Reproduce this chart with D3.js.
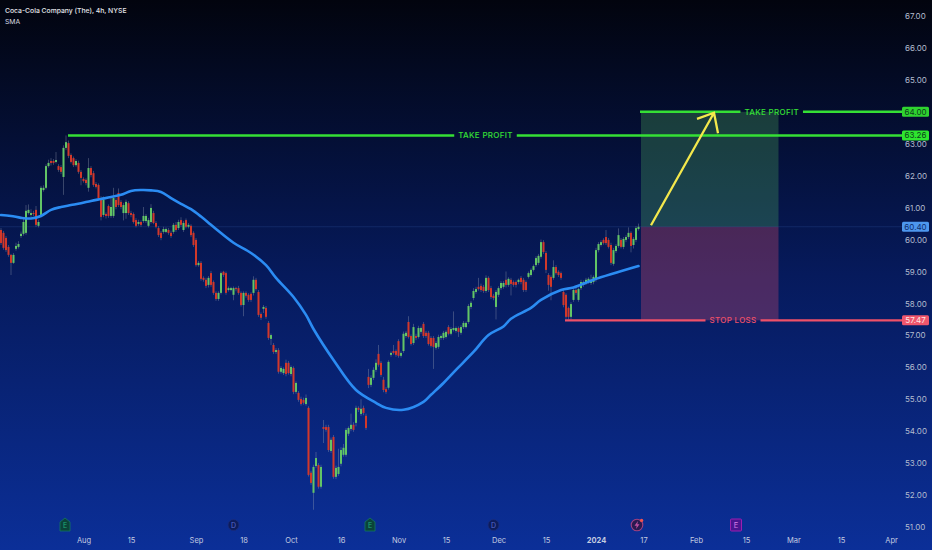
<!DOCTYPE html>
<html>
<head>
<meta charset="utf-8">
<script src="https://cdn.jsdelivr.net/npm/d3@7"></script>
<style>
  html, body { margin: 0; padding: 0; background: #020510; }
  svg { display: block; font-family: Inter, "Noto Sans", sans-serif; }
</style>
</head>
<body>
<svg id="chart" width="932" height="550"></svg>
<script>
const candleOpen = [
  60.30,60.21,60.05,59.77,59.52,59.27,59.71,59.77,60.11,60.18,
  60.21,60.83,60.77,60.83,60.93,60.43,60.77,61.55,61.62,62.30,
  62.46,62.46,62.43,62.30,62.27,61.96,62.87,63.02,62.65,62.55,
  62.33,62.40,62.12,61.90,61.87,61.62,62.24,62.08,61.74,61.71,
  61.30,60.77,60.80,61.05,60.74,60.74,61.24,61.46,61.18,60.83,
  60.83,61.14,60.83,60.80,60.61,60.49,60.55,60.58,60.58,60.43,
  60.55,60.83,60.52,60.36,60.21,60.24,60.24,60.30,60.21,60.24,
  60.46,60.36,60.61,60.30,60.61,60.40,60.43,60.21,59.99,59.20,
  59.27,58.80,58.74,58.58,58.95,58.67,58.33,58.14,58.33,58.99,
  58.95,58.42,58.42,58.27,58.48,58.48,58.33,57.95,58.33,58.27,
  58.30,58.33,58.74,58.36,57.67,57.83,57.86,57.39,56.89,56.70,
  56.48,56.54,55.86,55.82,56.14,56.14,55.79,55.98,55.23,55.20,
  55.01,54.98,54.85,54.73,52.70,52.07,52.91,52.94,52.26,54.13,
  54.13,54.13,53.38,53.82,52.57,52.66,52.98,53.26,53.26,53.92,
  54.07,54.20,54.26,54.73,54.54,54.73,54.48,55.70,55.45,55.67,
  55.92,56.42,56.14,55.61,55.32,55.36,56.39,56.51,56.51,56.82,
  56.36,56.51,56.98,57.42,56.98,56.76,56.98,56.95,57.11,57.36,
  57.08,57.08,56.92,56.92,56.61,56.64,56.92,56.92,56.95,57.26,
  57.05,57.17,57.14,57.23,57.08,57.26,57.26,57.42,57.89,58.17,
  58.36,58.52,58.55,58.52,58.39,58.80,58.48,58.24,57.89,58.27,
  58.48,58.52,58.74,58.58,58.74,58.67,58.67,58.67,58.80,58.74,
  58.67,58.83,58.89,59.05,59.20,59.27,59.46,59.92,59.58,58.89,
  58.83,58.80,59.14,58.99,58.95,58.36,58.27,57.86,57.58,58.11,
  58.42,58.11,58.48,58.58,58.64,58.67,58.64,58.67,58.74,59.67,
  59.83,59.99,60.08,59.99,59.83,59.24,59.64,59.80,59.99,59.77,
  59.99,60.08,60.21,59.83,59.99,60.33
];
const candleClose = [
  59.89,59.74,59.67,59.52,59.27,59.52,59.80,59.86,60.18,60.55,
  60.90,60.93,60.83,60.80,60.46,60.55,61.62,61.62,62.30,62.40,
  62.40,62.40,62.49,62.18,62.12,62.87,63.05,62.62,62.43,62.33,
  62.46,62.12,61.93,61.83,61.77,62.24,62.02,61.71,61.65,61.30,
  60.71,61.24,60.74,60.74,61.02,61.30,61.02,61.08,61.02,61.08,
  61.18,60.83,60.77,60.55,60.43,60.55,60.46,60.74,60.74,60.61,
  60.99,60.52,60.40,60.14,60.05,60.33,60.33,60.21,60.11,60.46,
  60.30,60.55,60.46,60.52,60.40,60.46,60.14,59.83,59.20,59.27,
  58.77,58.74,58.55,58.80,58.58,58.33,58.14,58.33,58.95,58.89,
  58.33,58.48,58.48,58.48,58.45,58.33,57.95,58.33,58.24,58.11,
  58.11,58.74,58.45,57.64,57.55,57.89,57.58,56.92,57.01,56.48,
  56.54,55.86,55.98,55.95,55.79,55.82,56.01,55.23,55.51,54.98,
  54.85,54.89,55.04,52.63,52.38,52.88,53.16,52.26,52.88,54.07,
  54.04,53.41,53.73,52.57,52.85,52.88,53.41,53.48,54.04,54.10,
  54.20,54.04,54.73,54.67,54.70,54.57,54.10,55.45,55.67,55.92,
  56.14,56.08,55.76,55.29,55.23,56.17,56.45,56.45,56.39,56.36,
  56.45,57.05,57.08,56.95,56.73,57.26,56.92,57.23,57.23,56.98,
  56.98,56.73,56.67,56.64,56.76,56.95,56.98,57.08,57.11,57.05,
  57.20,57.23,57.23,57.11,57.26,57.39,57.39,57.92,58.02,58.39,
  58.45,58.45,58.42,58.39,58.80,58.42,58.20,58.17,58.36,58.48,
  58.64,58.64,58.58,58.77,58.61,58.58,58.58,58.74,58.67,58.42,
  58.42,58.95,59.05,59.17,59.42,59.49,59.92,59.61,59.05,58.58,
  58.52,59.14,58.95,58.89,58.80,57.95,57.58,57.58,57.98,58.42,
  58.33,58.45,58.67,58.67,58.74,58.77,58.74,58.83,59.67,59.86,
  59.92,59.89,59.89,59.77,59.27,59.67,59.80,60.14,59.77,60.02,
  60.08,60.21,59.80,60.02,60.36,60.40
];
const candleHigh = [
  60.36,60.27,60.11,59.83,59.55,59.58,59.90,59.95,60.25,60.65,
  61.08,61.10,60.95,60.90,61.05,60.62,61.68,61.70,62.36,62.50,
  62.55,62.52,62.74,62.36,62.33,62.95,63.26,63.10,62.70,62.60,
  62.52,62.47,62.18,61.95,61.92,62.55,62.30,62.15,61.80,61.76,
  61.36,61.35,60.85,61.10,61.30,61.62,61.30,61.60,61.24,61.15,
  61.25,61.20,60.90,60.85,60.67,60.62,60.60,61.02,60.80,60.68,
  61.11,60.90,60.58,60.42,60.27,60.40,60.38,60.36,60.28,60.52,
  60.55,60.62,60.70,60.58,60.66,60.52,60.48,60.26,60.05,59.33,
  59.33,58.85,58.80,58.86,59.02,58.72,58.38,58.38,59.00,59.02,
  59.00,58.53,58.52,58.53,58.52,58.55,58.38,58.38,58.38,58.32,
  58.35,58.85,58.80,58.42,57.72,57.95,57.92,57.45,57.06,56.76,
  56.60,56.60,56.04,56.00,56.24,56.20,56.06,56.03,55.56,55.26,
  55.08,55.05,55.15,54.78,52.76,52.95,53.35,53.00,52.95,54.35,
  54.20,54.20,53.80,53.88,52.92,53.45,53.50,53.60,54.10,54.15,
  54.55,54.28,54.80,54.78,55.00,54.80,54.55,55.95,55.75,56.00,
  56.25,56.70,56.20,55.70,55.38,56.22,56.50,56.70,56.56,56.88,
  56.50,57.12,57.14,57.60,57.03,57.36,57.05,57.30,57.28,57.42,
  57.14,57.14,56.98,56.98,56.82,57.02,57.03,57.14,57.16,57.32,
  57.26,57.75,57.28,57.28,57.32,57.45,57.44,57.98,58.08,58.48,
  58.52,58.80,58.62,58.58,58.88,58.85,58.55,58.30,58.42,58.54,
  58.70,58.70,59.00,58.82,58.80,58.72,58.72,58.78,58.86,58.80,
  58.72,59.00,59.10,59.22,59.48,59.55,60.00,59.98,59.64,58.95,
  58.88,59.35,59.20,59.04,59.00,58.42,58.32,57.90,58.04,58.48,
  58.50,58.50,58.74,58.72,58.80,58.82,58.90,58.88,59.74,59.92,
  59.98,60.04,60.30,60.05,59.90,59.74,59.86,60.35,60.05,60.08,
  60.14,60.38,60.26,60.08,60.42,60.50
];
const candleLow = [
  59.83,59.68,59.61,59.46,58.89,59.24,59.65,59.72,60.05,60.12,
  60.15,60.78,60.70,60.74,60.40,60.38,60.70,61.50,61.57,62.25,
  62.32,62.34,62.38,62.12,62.05,61.40,62.80,62.55,62.38,62.27,
  62.28,62.06,61.70,61.78,61.70,61.50,61.95,61.65,61.60,61.24,
  60.60,60.70,60.66,60.68,60.68,60.68,60.95,61.02,60.95,60.60,
  60.65,60.77,60.70,60.50,60.38,60.43,60.40,60.52,60.52,60.38,
  60.50,60.48,60.35,60.08,59.98,60.18,60.20,60.15,60.05,60.18,
  60.24,60.30,60.40,60.24,60.35,60.35,60.08,59.77,59.15,59.15,
  58.71,58.68,58.48,58.50,58.52,58.27,58.08,58.08,58.28,58.83,
  58.27,58.37,58.38,58.10,58.38,58.27,57.90,57.60,58.18,58.05,
  58.05,58.25,58.40,57.58,57.48,57.70,57.52,56.86,56.70,56.42,
  56.42,55.80,55.80,55.76,55.72,55.77,55.72,55.16,55.17,54.92,
  54.80,54.83,54.80,52.58,52.32,51.54,52.85,52.20,52.20,53.63,
  53.98,53.35,53.32,52.51,52.50,52.60,52.90,53.20,53.20,53.85,
  54.00,53.98,54.15,54.60,54.48,54.50,54.04,55.35,55.38,55.60,
  55.85,56.02,55.70,55.22,55.17,55.30,56.33,56.40,56.33,56.30,
  56.30,56.45,56.92,56.90,56.68,56.70,56.85,56.90,57.05,56.92,
  56.92,56.68,56.62,55.95,56.55,56.58,56.86,56.86,56.90,57.00,
  57.00,57.12,57.08,56.95,57.02,57.20,57.22,57.36,57.82,58.10,
  58.30,58.40,58.36,58.33,58.33,58.36,58.14,58.10,57.50,58.20,
  58.42,58.46,58.50,58.52,58.25,58.52,58.50,58.60,58.60,58.36,
  58.36,58.78,58.84,59.00,59.14,59.20,59.40,59.55,58.95,58.40,
  58.10,58.74,58.90,58.83,58.74,57.88,57.52,57.50,57.50,58.05,
  58.27,58.05,58.42,58.52,58.58,58.62,58.58,58.60,58.68,59.60,
  59.78,59.84,59.83,59.72,59.20,59.18,59.58,59.74,59.72,59.70,
  59.92,60.02,59.60,59.72,59.92,60.28
];

// SMA at a handful of bars
const smaBar = [0,4,8,12,16,20,24,28,32,36,40,44,48,52,56,60,64,68,72,76,80,84,86,93,100,106,110,117,122,125,133,142,150,154,161,169,172,177,182,189,195,201,204,212,216,224,229,237,255];
const smaValue = [60.77,60.74,60.68,60.66,60.74,60.93,61.02,61.08,61.14,61.21,61.27,61.33,61.40,61.52,61.55,61.54,61.49,61.30,61.12,60.95,60.72,60.46,60.33,59.90,59.58,59.20,58.80,58.20,57.64,57.20,56.23,55.29,54.89,54.73,54.67,54.92,55.14,55.51,55.92,56.48,57.01,57.28,57.52,57.86,58.11,58.42,58.50,58.74,59.17];

const priceTicks = [67,66,65,64,63,62,61,60,59,58,57,56,55,54,53,52,51];
const timeTickBars = [33,52,78,97,116,136,159,178,199,218,238,257,278,298,317,336,356];
const timeTickLabels = ['Aug','15','Sep','18','Oct','16','Nov','15','Dec','15','2024','17','Feb','15','Mar','15','Apr'];

const takeProfit = 64.00, previousHigh = 63.26, lastPrice = 60.40, stopLoss = 57.47;
const eventBars = [25.6,93,147.6,197,254.4,294];
const eventKinds = ['earn','div','earn','div','split','next'];

const width = 932, height = 550;
const x = d3.scaleLinear().domain([0, 372]).range([1, 931]);
const y = d3.scaleLinear().domain([51, 67]).range([527, 16]);

const svg = d3.select('#chart');

const defs = svg.append('defs');
const grad = defs.append('linearGradient')
  .attr('id', 'bg').attr('x1', 0).attr('y1', 0).attr('x2', 0).attr('y2', 1);
grad.append('stop').attr('offset', '0%').attr('stop-color', '#02040e');
grad.append('stop').attr('offset', '50%').attr('stop-color', '#061a5c');
grad.append('stop').attr('offset', '100%').attr('stop-color', '#0b2f98');
defs.append('filter').attr('id', 'soft').append('feGaussianBlur').attr('stdDeviation', 0.3);
svg.append('rect').attr('width', width).attr('height', height).attr('fill', 'url(#bg)');

// position box
const boxLeft = x(256), boxRight = x(311);
svg.append('rect').attr('x', boxLeft).attr('width', boxRight - boxLeft)
  .attr('y', y(takeProfit)).attr('height', y(lastPrice) - y(takeProfit))
  .attr('fill', '#5cc860').attr('fill-opacity', 0.26);
svg.append('rect').attr('x', boxLeft).attr('width', boxRight - boxLeft)
  .attr('y', y(lastPrice)).attr('height', y(stopLoss) - y(lastPrice))
  .attr('fill', '#e8506e').attr('fill-opacity', 0.3);

svg.append('line').attr('x1', 0).attr('x2', 902)
  .attr('y1', y(lastPrice)).attr('y2', y(lastPrice))
  .attr('stroke', '#3f6fc0').attr('stroke-opacity', 0.22).attr('stroke-width', 1);

// candles
const bars = d3.range(candleOpen.length);
const candles = svg.append('g').attr('filter', 'url(#soft)');
candles.selectAll('line').data(bars).enter().append('line')
  .attr('x1', i => x(i)).attr('x2', i => x(i))
  .attr('y1', i => y(candleHigh[i])).attr('y2', i => y(candleLow[i]))
  .attr('stroke', '#9aa3b5').attr('stroke-opacity', 0.5).attr('stroke-width', 0.7);
candles.selectAll('rect').data(bars).enter().append('rect')
  .attr('x', i => x(i) - 1)
  .attr('width', 2)
  .attr('y', i => y(Math.max(candleOpen[i], candleClose[i])))
  .attr('height', i => Math.max(1, Math.abs(y(candleOpen[i]) - y(candleClose[i]))))
  .attr('fill', i => candleClose[i] >= candleOpen[i] ? '#62c566' : '#d2372c');

// SMA
const smaLine = d3.line()
  .x(d => x(d))
  .y((d, i) => y(smaValue[i]))
  .curve(d3.curveCatmullRom);
svg.append('path').attr('d', smaLine(smaBar))
  .attr('fill', 'none').attr('stroke', '#2b8cf3').attr('stroke-width', 2.6)
  .attr('stroke-linecap', 'round');

// axes
const yAxis = d3.axisRight(y).tickValues(priceTicks).tickFormat(d3.format('.2f')).tickSize(0).tickPadding(0);
const yg = svg.append('g').attr('transform', 'translate(905,0)').call(yAxis);
yg.select('.domain').remove();
yg.selectAll('text').attr('fill', '#b4bccf').style('font-size', '8px').style('font-family', 'Inter, sans-serif');

const xAxis = d3.axisBottom(x).tickValues(timeTickBars)
  .tickFormat((d, i) => timeTickLabels[i]).tickSize(0).tickPadding(0);
const xg = svg.append('g').attr('transform', 'translate(0,538)').call(xAxis);
xg.select('.domain').remove();
xg.selectAll('text').attr('fill', '#c3cce0').style('font-size', '7.5px').style('font-family', 'Inter, sans-serif')
  .attr('font-weight', d => d === 238 ? 700 : 400);

// level lines, broken around their label
const levelLine = (price, startBar, color, label, labelX) => {
  const text = svg.append('text').attr('x', labelX).attr('y', y(price) + 3)
    .attr('text-anchor', 'middle').attr('fill', color)
    .attr('font-size', 8).attr('font-weight', 500).attr('letter-spacing', 0.3).text(label);
  const box = text.node().getBBox();
  const segs = [[x(startBar), box.x - 4], [box.x + box.width + 4, 902]];
  svg.selectAll(null).data(segs).enter().append('line')
    .attr('x1', d => d[0]).attr('x2', d => d[1])
    .attr('y1', y(price)).attr('y2', y(price))
    .attr('stroke', color).attr('stroke-width', 2.4);
};
levelLine(previousHigh, 26.8, '#35e035', 'TAKE PROFIT', 485.5);
levelLine(takeProfit, 255.6, '#35e035', 'TAKE PROFIT', 771.7);
levelLine(stopLoss, 225.6, '#ef5068', 'STOP LOSS', 733);

// price tags
const tags = [
  [takeProfit, '#2fd32f', '#0c3f1c'],
  [previousHigh, '#2ee62e', '#0c3f1c'],
  [lastPrice, '#4d97ee', '#0d2c6c'],
  [stopLoss, '#f0566c', '#ffe6e6']
];
tags.forEach(([price, fill, ink]) => {
  svg.append('rect').attr('x', 902).attr('y', y(price) - 5).attr('width', 27).attr('height', 10)
    .attr('rx', 1.5).attr('fill', fill);
  svg.append('text').attr('x', 915.5).attr('y', y(price) + 3).attr('text-anchor', 'middle')
    .attr('fill', ink).attr('font-size', 8).text(d3.format('.2f')(price));
});

// hand-drawn arrow
const arrowStart = [260, 60.45], arrowTip = [285.2, 63.97];
const wingA = [278.4, 63.78], wingB = [286.8, 63.33];
const px = p => [x(p[0]), y(p[1])];
svg.append('path')
  .attr('d', d3.line()([px(arrowStart), px(arrowTip)]) + d3.line()([px(wingA), px(arrowTip), px(wingB)]))
  .attr('fill', 'none').attr('stroke', '#f4e84c').attr('stroke-width', 2.3);

// event markers along the bottom
const iconY = 525;
const events = svg.append('g');
eventBars.forEach((bar, i) => {
  const cx = x(bar), kind = eventKinds[i];
  const g = events.append('g').attr('transform', `translate(${cx},${iconY})`);
  if (kind === 'earn') {
    g.append('path').attr('d', 'M-5,-3 L0,-7 L5,-3 L5,6 L-5,6 Z')
      .attr('fill', '#0b4339').attr('stroke', '#137a5f').attr('stroke-width', 0.8);
    g.append('text').attr('y', 3).attr('text-anchor', 'middle').attr('font-size', 7).attr('fill', '#1fae7c').text('E');
  } else if (kind === 'div') {
    g.append('circle').attr('r', 5.5).attr('fill', '#0c1c5c').attr('stroke', '#1a2c7e').attr('stroke-width', 0.8);
    g.append('text').attr('y', 2.5).attr('text-anchor', 'middle').attr('font-size', 7).attr('fill', '#5a6bd0').text('D');
  } else if (kind === 'split') {
    g.append('circle').attr('r', 5.8).attr('fill', '#2a1a50').attr('stroke', '#a0407f').attr('stroke-width', 1.1);
    g.append('path').attr('d', 'M1,-4 L-2.5,0.8 L-0.3,0.8 L-1,4 L2.5,-0.8 L0.3,-0.8 Z').attr('fill', '#c050a0');
    g.append('circle').attr('cx', 4.6).attr('cy', -4.6).attr('r', 1.7).attr('fill', '#ef5350');
  } else {
    g.append('rect').attr('x', -5.5).attr('y', -6).attr('width', 11).attr('height', 12).attr('rx', 1)
      .attr('fill', '#4a1490').attr('stroke', '#9c1fb0').attr('stroke-width', 1);
    g.append('text').attr('y', 2.7).attr('text-anchor', 'middle').attr('font-size', 7.5).attr('fill', '#d47ee8').text('E');
  }
});

// legend
svg.append('text').attr('x', 5).attr('y', 12.5).attr('fill', '#e4e6ea').attr('font-size', 6.8).attr('font-weight', 500)
  .text('Coca-Cola Company (The), 4h, NYSE');
svg.append('text').attr('x', 5).attr('y', 23.5).attr('fill', '#d8dbe2').attr('font-size', 6.8).text('SMA');
</script>
</body>
</html>
